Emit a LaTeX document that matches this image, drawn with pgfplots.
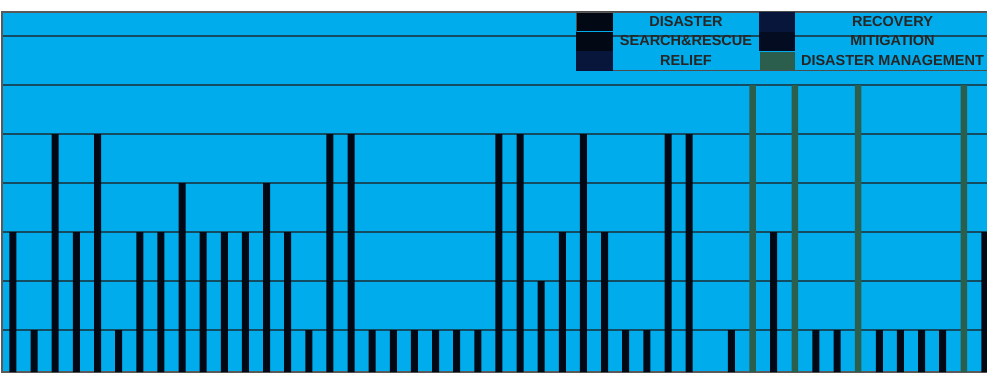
\documentclass[border=0pt]{standalone}
\usepackage{fontspec}
\setmainfont{Liberation Sans}
\usepackage{pgfplots}
\pgfplotsset{compat=1.18}
\usepackage{pgfplotstable}
\definecolor{bgblue}{RGB}{0,172,236}
\definecolor{gridc}{RGB}{20,76,98}
\definecolor{barblk}{RGB}{2,8,20}
\definecolor{navyA}{RGB}{8,22,60}
\definecolor{navyB}{RGB}{4,12,34}
\definecolor{dmgreen}{RGB}{44,94,78}
\pgfplotstableread{
k v
0 3
1 1
2 5
3 3
4 5
5 1
6 3
7 3
8 4
9 3
10 3
11 3
12 4
13 3
14 1
15 5
16 5
17 1
18 1
19 1
20 1
21 1
22 1
23 5
24 5
25 2
26 3
27 5
28 3
29 1
30 1
31 5
32 5
34 1
36 3
38 1
39 1
41 1
42 1
43 1
44 1
46 3
}\blackbars
\pgfplotstableread{
k v
35 6
37 6
40 6
45 6
}\greenbars
\newcommand\LE[2]{\makebox[#1]{#2}}
\begin{document}
\begin{tikzpicture}[x=1pt,y=1pt]
\useasboundingbox (0,0) rectangle (987,372);
\clip (0,0) rectangle (987,372);
\begin{axis}[
  at={(2pt,0pt)}, anchor=south west,
  scale only axis, width=988pt, height=360pt,
  xmin=-0.52, xmax=46.24,
  ymin=0.143, ymax=7.49,
  axis background/.style={fill=bgblue},
  axis line style={draw=black!65, line width=1.6pt},
  xtick=\empty,
  ytick={1,2,3,4,5,6,7},
  yticklabels={},
  major tick length=0pt,
  ymajorgrids,
  grid style={draw=gridc, line width=1.3pt},
  legend columns=2,
  legend style={
    at={(1,1)}, anchor=north east,
    draw=black!70, line width=1pt, fill=none,
    font=\bfseries\fontsize{14.5}{15}\selectfont,
    text=black!85,
    inner sep=0pt, outer sep=0pt,
    row sep=0pt, column sep=0pt,
    nodes={inner sep=0pt, minimum height=18.6pt},
    column 2/.style={column sep=3pt},
  },
]
\addplot[ybar, bar width=7pt, bar shift=0pt, fill=barblk, draw=none,
  legend image code/.code={\fill[barblk] (0pt,-9.3pt) rectangle (36pt,9.3pt);}]
  table[x=k, y=v] {\blackbars};
\addlegendentry{\LE{146pt}{DISASTER}}
\addlegendimage{legend image code/.code={\fill[navyA] (0pt,-9.3pt) rectangle (35pt,9.3pt);}}
\addlegendentry{\LE{195pt}{RECOVERY}}
\addlegendimage{legend image code/.code={\fill[barblk] (0pt,-9.3pt) rectangle (36pt,9.3pt);}}
\addlegendentry{\LE{146pt}{SEARCH\&RESCUE}}
\addlegendimage{legend image code/.code={\fill[navyB] (0pt,-9.3pt) rectangle (35pt,9.3pt);}}
\addlegendentry{\LE{195pt}{MITIGATION}}
\addlegendimage{legend image code/.code={\fill[navyA] (0pt,-9.3pt) rectangle (36pt,9.3pt);}}
\addlegendentry{\LE{146pt}{RELIEF}}
\addplot[ybar, bar width=6.5pt, bar shift=0pt, fill=dmgreen, draw=none,
  legend image code/.code={\fill[dmgreen] (0pt,-9.3pt) rectangle (35pt,9.3pt);}]
  table[x=k, y=v] {\greenbars};
\addlegendentry{\LE{195pt}{DISASTER MANAGEMENT}}
\end{axis}
\end{tikzpicture}
\end{document}
